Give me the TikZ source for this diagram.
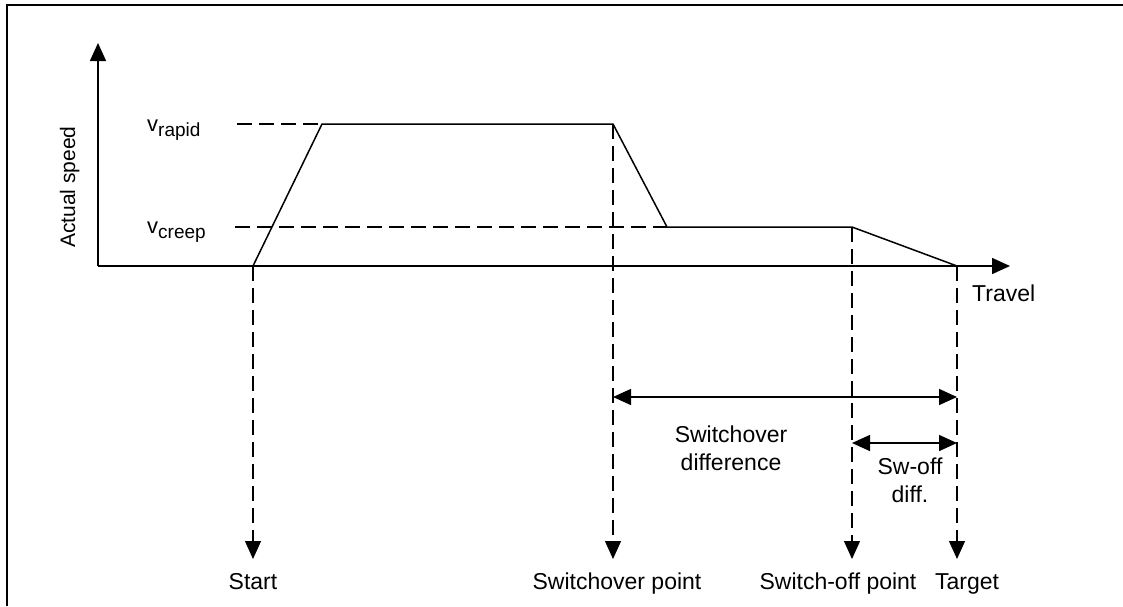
\documentclass[tikz,border=0pt]{standalone}
\usepackage{fontspec}
\setmainfont{Liberation Sans}
\usetikzlibrary{arrows.meta}
\begin{document}
\begin{tikzpicture}[x=1pt,y=-1pt,
  tip/.style={-{Triangle[length=18pt,width=16pt]}},
  axis/.style={line width=1.5pt,tip},
  curve/.style={line width=1.5pt, line join=miter},
  guide/.style={line width=1.1pt, dash pattern=on 15pt off 7pt},
  dimline/.style={line width=1.5pt, {Triangle[length=18pt,width=16pt]}-{Triangle[length=18pt,width=16pt]}},
  lbl/.style={inner sep=0pt, font=\fontsize{23}{28}\selectfont, anchor=base},
  vlbl/.style={lbl, anchor=base west, font=\fontsize{22}{26}\selectfont},
  frame/.style={line width=2pt},
]
\useasboundingbox (0,0) rectangle (1123,606);
% frame (top and left only)
\draw[frame] (7,606) -- (7,5) -- (1123,5);

% key points
\coordinate (O) at (98,266);
\coordinate (ytip) at (98,43);
\coordinate (xtip) at (1010,266);
\coordinate (s) at (253,266);
\coordinate (r1) at (322,124);
\coordinate (r2) at (613,124);
\coordinate (c1) at (667,227);
\coordinate (c2) at (852,227);
\coordinate (t) at (957,266);
\coordinate (rl) at (237,124);
\coordinate (cl) at (235,227);
\coordinate (sb) at (253,559);
\coordinate (r2b) at (613,559);
\coordinate (c2b) at (852,559);
\coordinate (tb) at (957,559);
\coordinate (d1a) at (613,397);
\coordinate (d1b) at (957,397);
\coordinate (d2a) at (852,443);
\coordinate (d2b) at (957,443);

% axes
\draw[axis] (O) -- (ytip);
\draw[axis] (O) -- (xtip);

% guides
\draw[guide] (rl) -- (r1);
\draw[guide] (cl) -- (c1);
\draw[guide,tip] (s) -- (sb);
\draw[guide,tip] (r2) -- (r2b);
\draw[guide,tip] (c2) -- (c2b);
\draw[guide,tip] (t) -- (tb);

% speed profile
\draw[curve] (s) -- (r1) -- (r2) -- (c1) -- (c2) -- (t);

% dimension arrows
\draw[dimline] (d1a) -- (d1b);
\draw[dimline] (d2a) -- (d2b);

% labels
\node[vlbl] (vr) at (147,131)
  {v\raisebox{-5pt}{\fontsize{19}{22}\selectfont rapid}};
\node[vlbl] (vc) at (147,233)
  {v\raisebox{-5pt}{\fontsize{19}{22}\selectfont creep}};
\node[lbl, rotate=90, font=\fontsize{21}{25}\selectfont] (ylbl) at (75,187) {Actual speed};
\node[lbl, anchor=base west] (xlbl) at (972,301) {Travel};
\node[lbl, anchor=north, align=center] (swd) at (731,426) {Switchover\\difference};
\node[lbl, anchor=north, align=center] (sod) at (910,458) {Sw-off\\diff.};
\node[lbl] (lstart) at (253,589) {Start};
\node[lbl] (lswp) at (617,589) {Switchover point};
\node[lbl] (loff) at (838,589) {Switch-off point};
\node[lbl] (ltgt) at (967,589) {Target};
\end{tikzpicture}
\end{document}
